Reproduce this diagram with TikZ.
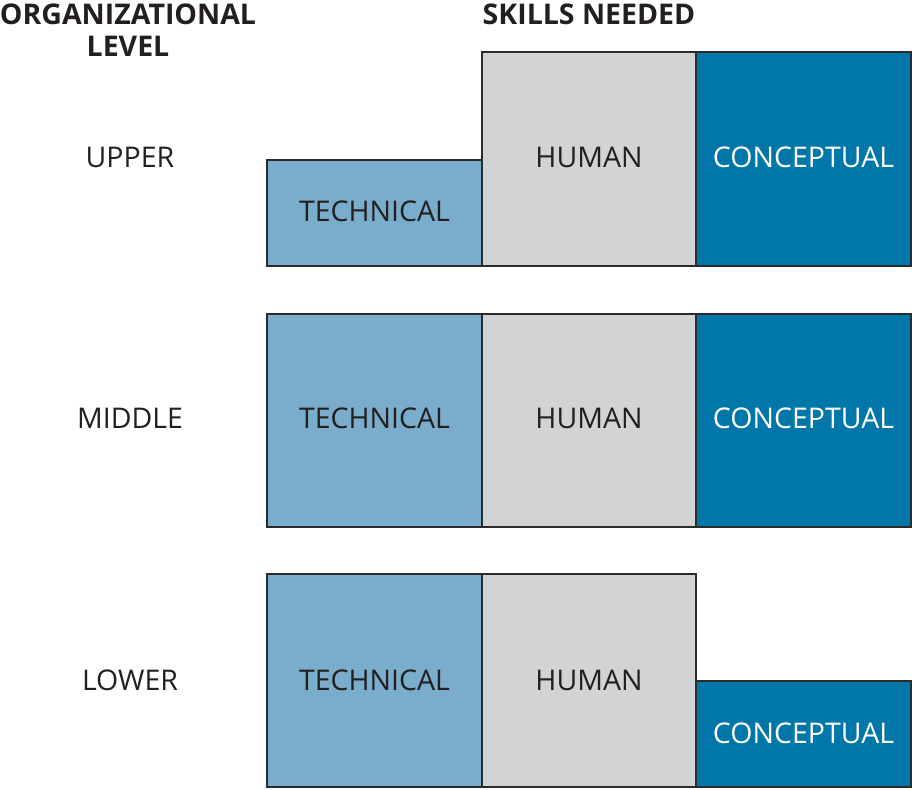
\documentclass[tikz,border=0pt]{standalone}
\usepackage{fontspec}
\setmainfont{Open Sans}
\definecolor{techblue}{HTML}{7AACCB}
\definecolor{humangray}{HTML}{D1D3D4}
\definecolor{concblue}{HTML}{0077A8}
\definecolor{edgecol}{HTML}{2B2B2B}
\definecolor{txtcol}{HTML}{231F20}
\begin{document}
\begin{tikzpicture}[x=1pt,y=-1pt,
  box/.style={draw=edgecol, line width=2pt, inner sep=0pt, font=\fontsize{28.5}{32}\selectfont, text=txtcol},
  tech/.style={box, fill=techblue},
  hum/.style={box, fill=humangray},
  conc/.style={box, fill=concblue, text=white},
  lvl/.style={font=\fontsize{28.5}{32}\selectfont, text=txtcol},
  head/.style={font=\fontsize{28.5}{32}\selectfont\bfseries, text=txtcol, align=center, inner sep=0pt}]
\useasboundingbox (0,0) rectangle (912,789);
% headers
\node[head] (hOrg) at (128,30.5) {ORGANIZATIONAL\\LEVEL};
\node[head] (hSkill) at (589,14.5) {SKILLS NEEDED};
% level labels
\node[lvl] (lUp) at (130,157) {UPPER};
\node[lvl] (lMid) at (130,418) {MIDDLE};
\node[lvl] (lLow) at (130,680) {LOWER};
% upper
\node[tech, minimum width=215, minimum height=106] (uT) at (374.5,213) {};
\node[hum, minimum width=214, minimum height=214] (uH) at (589,159) {};
\node[conc, minimum width=215, minimum height=214] (uC) at (803.5,159) {};
% middle
\node[tech, minimum width=215, minimum height=213] (mT) at (374.5,420.5) {};
\node[hum, minimum width=214, minimum height=213] (mH) at (589,420.5) {};
\node[conc, minimum width=215, minimum height=213] (mC) at (803.5,420.5) {};
% lower
\node[tech, minimum width=215, minimum height=213] (dT) at (374.5,680.5) {};
\node[hum, minimum width=214, minimum height=213] (dH) at (589,680.5) {};
\node[conc, minimum width=215, minimum height=106] (dC) at (803.5,734) {};
% box labels
\node[lvl] (tuT) at ([yshift=2pt]uT.center) {TECHNICAL};
\node[lvl] (tuH) at ([yshift=2pt]uH.center) {HUMAN};
\node[lvl, text=white] (tuC) at ([yshift=2pt]uC.center) {CONCEPTUAL};
\node[lvl] (tmT) at ([yshift=2pt]mT.center) {TECHNICAL};
\node[lvl] (tmH) at ([yshift=2pt]mH.center) {HUMAN};
\node[lvl, text=white] (tmC) at ([yshift=2pt]mC.center) {CONCEPTUAL};
\node[lvl] (tdT) at ([yshift=0pt]dT.center) {TECHNICAL};
\node[lvl] (tdH) at ([yshift=0pt]dH.center) {HUMAN};
\node[lvl, text=white] (tdC) at ([yshift=1pt]dC.center) {CONCEPTUAL};
\end{tikzpicture}
\end{document}
